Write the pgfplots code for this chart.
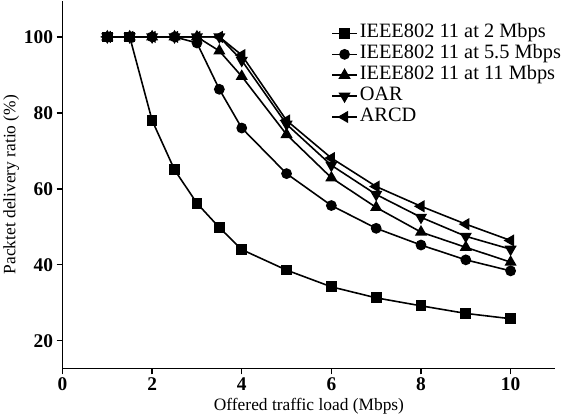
\documentclass[border=0pt]{standalone}
\usepackage{fontspec}
\setmainfont{Liberation Serif}
\usepackage{pgfplots}
\pgfplotsset{compat=1.18}
\begin{document}
\begin{tikzpicture}
\begin{axis}[
  scale only axis,
  width=496pt, height=370pt,
  xmin=0, xmax=11, ymin=12.7, ymax=109.5,
  axis x line=bottom, axis y line=left,
  axis line style={line width=1.6pt, -},
  xtick={0,2,4,6,8,10}, ytick={20,40,60,80,100},
  tick style={line width=1.4pt, black},
  tick align=outside, major tick length=6pt,
  /pgf/number format/assume math mode=true,
  ticklabel style={font=\fontsize{19.5}{21}\selectfont\bfseries},
  xlabel={Offered traffic load (Mbps)},
  ylabel={Packtet delivery ratio (\%)},
  label style={font=\fontsize{17.5}{19}\selectfont},
  xlabel style={yshift=0pt},
  ylabel style={yshift=-2pt},
  every axis plot/.append style={line width=1.6pt, black},
  legend cell align=left,
  legend style={draw=none, fill=none, at={(0.545,0.94)}, anchor=north west,
    font=\fontsize{20.5}{21}\selectfont, row sep=0pt, inner sep=0pt,
    nodes={text height=13pt, text depth=4pt}},
  legend image code/.code={\draw[#1] (0pt,0pt) -- (25pt,0pt); \draw[#1, only marks] plot coordinates {(12.5pt,0pt)};},
]
\addplot[mark=square*, mark size=4.6pt] coordinates {
(1,100) (1.5,100) (2,78) (2.5,65) (3,56.2) (3.5,49.8) (4,44) (5,38.6) (6,34.2) (7,31.3) (8,29.2) (9,27.2) (10,25.8)};
\addlegendentry{IEEE802 11 at 2 Mbps}
\addplot[mark=*, mark size=4.6pt] coordinates {
(1,100) (1.5,100) (2,100) (2.5,100) (3,98.4) (3.5,86.2) (4,76) (5,64) (6,55.6) (7,49.6) (8,45.2) (9,41.3) (10,38.4)};
\addlegendentry{IEEE802 11 at 5.5 Mbps}
\addplot[mark=triangle*, mark size=5.5pt] coordinates {
(1,100) (1.5,100) (2,100) (2.5,100) (3,100) (3.5,96.3) (4,89.6) (5,74.3) (6,62.9) (7,55.1) (8,48.6) (9,44.6) (10,40.7)};
\addlegendentry{IEEE802 11 at 11 Mbps}
\addplot[mark=triangle*, mark size=5.5pt, mark options={rotate=180}] coordinates {
(1,100) (1.5,100) (2,100) (2.5,100) (3,100) (3.5,100) (4,93.8) (5,77) (6,66.2) (7,58.5) (8,52.5) (9,47.5) (10,44.1)};
\addlegendentry{OAR}
\addplot[mark=triangle*, mark size=5.5pt, mark options={rotate=90}] coordinates {
(1,100) (1.5,100) (2,100) (2.5,100) (3,100) (3.5,100) (4,95.2) (5,78) (6,68.1) (7,60.6) (8,55.4) (9,50.7) (10,46.4)};
\addlegendentry{ARCD}
\end{axis}
\end{tikzpicture}
\end{document}
